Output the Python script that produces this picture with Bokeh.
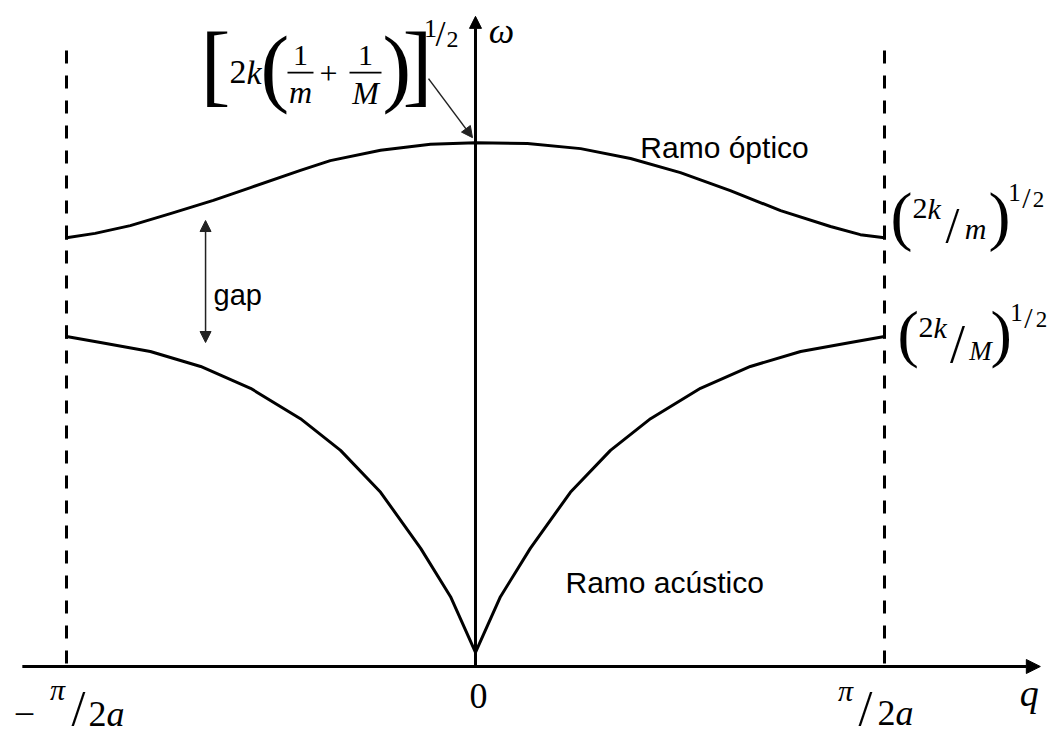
from bokeh.plotting import figure
from bokeh.models import Range1d, Arrow, NormalHead
from bokeh.core.properties import value
from bokeh.embed import file_html
from bokeh.resources import INLINE

# Wave vector q in units of pi/2a, frequency omega in units of (2k/m)^1/2
q_optical = [-1.0, -0.93, -0.844, -0.746, -0.641, -0.55, -0.428, -0.355, -0.232, -0.11, 0.0,
             0.127, 0.257, 0.379, 0.501, 0.623, 0.746, 0.868, 0.941, 1.0]
w_optical = [1.002, 1.012, 1.030, 1.058, 1.089, 1.119, 1.159, 1.182, 1.206, 1.220, 1.224,
             1.222, 1.210, 1.187, 1.154, 1.112, 1.065, 1.028, 1.009, 1.002]

q_acoustic = [-1.0, -0.917, -0.795, -0.672, -0.55, -0.428, -0.33, -0.232, -0.134, -0.061, 0.0,
              0.061, 0.134, 0.232, 0.33, 0.428, 0.55, 0.672, 0.795, 0.917, 1.0]
w_acoustic = [0.771, 0.757, 0.736, 0.701, 0.650, 0.579, 0.505, 0.407, 0.276, 0.163, 0.033,
              0.163, 0.276, 0.407, 0.505, 0.579, 0.650, 0.701, 0.736, 0.757, 0.771]

q_zone = [-1.0, 1.0]          # Brillouin zone edges, -pi/2a and pi/2a
q_axis = [-1.108, 1.381]      # extent of the q axis
w_axis_top = 1.519            # top of the omega axis
w_zone_top = 1.439            # top of the dashed zone-edge lines
gap_q = -0.66                 # where the gap is marked

W, H = 1052, 736
X_RANGE = (-1.16137, 1.41076)
Y_RANGE = (-0.16355, 1.55607)
SX = W / (X_RANGE[1] - X_RANGE[0])
SY = H / (Y_RANGE[1] - Y_RANGE[0])

SERIF = "Liberation Serif"
SANS = "Liberation Sans"
INK = "#000000"
PEN = "#222222"

p = figure(width=W, height=H, x_range=Range1d(*X_RANGE), y_range=Range1d(*Y_RANGE),
           output_backend="svg", toolbar_location=None, x_axis_type=None, y_axis_type=None,
           min_border=0, outline_line_color=None)
p.background_fill_color = "white"
p.border_fill_color = "white"


def shift(x, y, dx, dy):
    """Data point moved by (dx, dy) screen pixels, dy pointing down."""
    return x + dx / SX, y - dy / SY


def put(x, y, s, dx, dy, size, italic=False, font=SERIF, align="left"):
    """Text whose baseline sits dy pixels below (x, y), shifted dx pixels across."""
    mid = 0.3465 if font == SANS else 0.3375
    p.text(x=[x], y=[y], text=[s], x_offset=dx, y_offset=dy - mid * size,
           text_font=value(font), text_font_size=f"{size}px",
           text_font_style="italic" if italic else "normal",
           text_align=align, text_baseline="middle", text_color=INK)


# dashed zone edges
for qe in q_zone:
    p.line([qe, qe], [w_zone_top, 0], line_width=3, line_dash="13 12", color=INK)

# axes with arrow heads
p.add_layout(Arrow(end=NormalHead(size=14, fill_color=INK, line_color=INK),
                   x_start=q_axis[0], y_start=0, x_end=q_axis[1], y_end=0,
                   line_width=3, line_color=INK))
p.add_layout(Arrow(end=NormalHead(size=12, fill_color=INK, line_color=INK),
                   x_start=0, y_start=0, x_end=0, y_end=w_axis_top,
                   line_width=3, line_color=INK))

# dispersion branches
p.line(q_optical, w_optical, line_width=3, color=INK, line_join="round")
p.line(q_acoustic, w_acoustic, line_width=3, color=INK, line_join="round")

# short caps where the branches meet the zone edges
ends_q = [q_optical[0], q_optical[-1], q_acoustic[0], q_acoustic[-1]]
ends_w = [w_optical[0], w_optical[-1], w_acoustic[0], w_acoustic[-1]]
p.segment(x0=ends_q, y0=[w - 0.005 for w in ends_w], x1=ends_q,
          y1=[w + 0.026 for w in ends_w], line_width=3, color=INK)

# gap marker
w_gap_low = w_acoustic[0] - 0.014
w_gap_high = w_optical[0] + 0.04
p.add_layout(Arrow(start=NormalHead(size=11, fill_color=PEN, line_color=PEN),
                   end=NormalHead(size=11, fill_color=PEN, line_color=PEN),
                   x_start=gap_q, y_start=w_gap_low, x_end=gap_q, y_end=w_gap_high,
                   line_width=1.5, line_color=PEN))
put(gap_q, w_gap_low, "gap", 8, -37, 29, font=SANS)

# branch names
put(0.403, 1.189, "Ramo óptico", 0, 0, 30, font=SANS)
put(0.220, 0.173, "Ramo acústico", 0, 0, 30, font=SANS)

# axis labels
put(q_axis[1], 0, "q", -11, 39, 38, italic=True, align="center")
put(0, w_axis_top, "ω", 26, 27, 36, italic=True, align="center")
put(0, 0, "0", 3, 42, 36, align="center")

# -pi/2a and pi/2a
ql, qr = q_zone
put(ql, 0, "−", -42, 61, 38, align="center")
put(ql, 0, "π", -9, 33, 30, italic=True, align="center")
put(ql, 0, "/", 12, 58, 50, align="center")
put(ql, 0, "2", 22, 60, 36)
put(ql, 0, "a", 40, 60, 36, italic=True)

put(qr, 0, "π", -39, 34, 30, italic=True, align="center")
put(qr, 0, "/", -19, 58, 50, align="center")
put(qr, 0, "2", -7, 59, 36)
put(qr, 0, "a", 11, 59, 36, italic=True)

# (2k/m)^1/2 at the optical zone edge
wo = w_optical[-1]
put(qr, wo, "(", 6, 0, 66)
put(qr, wo, "2", 28, -19, 30)
put(qr, wo, "k", 43, -19, 30, italic=True)
put(qr, wo, "/", 68, 4, 50, align="center")
put(qr, wo, "m", 91, 1, 30, italic=True, align="center")
put(qr, wo, ")", 104, 0, 66)
put(qr, wo, "1", 130, -37, 25, align="center")
put(qr, wo, "/", 142, -30, 30, align="center")
put(qr, wo, "2", 154, -30, 23, align="center")

# (2k/M)^1/2 at the acoustic zone edge
wa = w_acoustic[-1]
put(qr, wa, "(", 13, 19, 64)
put(qr, wa, "2", 34, 1, 30)
put(qr, wa, "k", 49, 1, 30, italic=True)
put(qr, wa, "/", 73, 26, 54, align="center")
put(qr, wa, "M", 96, 24, 27, italic=True, align="center")
put(qr, wa, ")", 106, 19, 64)
put(qr, wa, "1", 132, -16, 25, align="center")
put(qr, wa, "/", 144, -9, 30, align="center")
put(qr, wa, "2", 157, -9, 23, align="center")

# [2k(1/m + 1/M)]^1/2 above the top of the optical branch
wp = max(w_optical)
put(0, wp, "[", -275, -48, 90)
put(0, wp, "2", -246, -59, 34)
put(0, wp, "k", -229, -59, 34, italic=True)
put(0, wp, "(", -215, -47, 86)
put(0, wp, "1", -175, -77, 30, align="center")
put(0, wp, "m", -175, -40, 32, italic=True, align="center")
put(0, wp, "+", -147, -58, 32, align="center")
put(0, wp, "1", -110, -77, 30, align="center")
put(0, wp, "M", -110, -39, 32, italic=True, align="center")
put(0, wp, ")", -93, -47, 86)
put(0, wp, "]", -73, -48, 90)
put(0, wp, "1", -45, -105, 26, align="center")
put(0, wp, "/", -35, -96, 36, align="center")
put(0, wp, "2", -23, -95, 24, align="center")

bars = [shift(0, wp, dx0, -70) + shift(0, wp, dx1, -70) for dx0, dx1 in ((-188, -162), (-126, -94))]
p.segment(x0=[b[0] for b in bars], y0=[b[1] for b in bars],
          x1=[b[2] for b in bars], y1=[b[3] for b in bars], line_width=1.6, color=INK)

# pointer from the formula to the top of the optical branch
xs, ys = shift(0, wp, -47, -64)
xe, ye = shift(0, wp, -3, -5)
p.add_layout(Arrow(end=NormalHead(size=11, fill_color=PEN, line_color=PEN),
                   x_start=xs, y_start=ys, x_end=xe, y_end=ye,
                   line_width=1.5, line_color=PEN))

open("out.html", "w").write(file_html(p, INLINE))
